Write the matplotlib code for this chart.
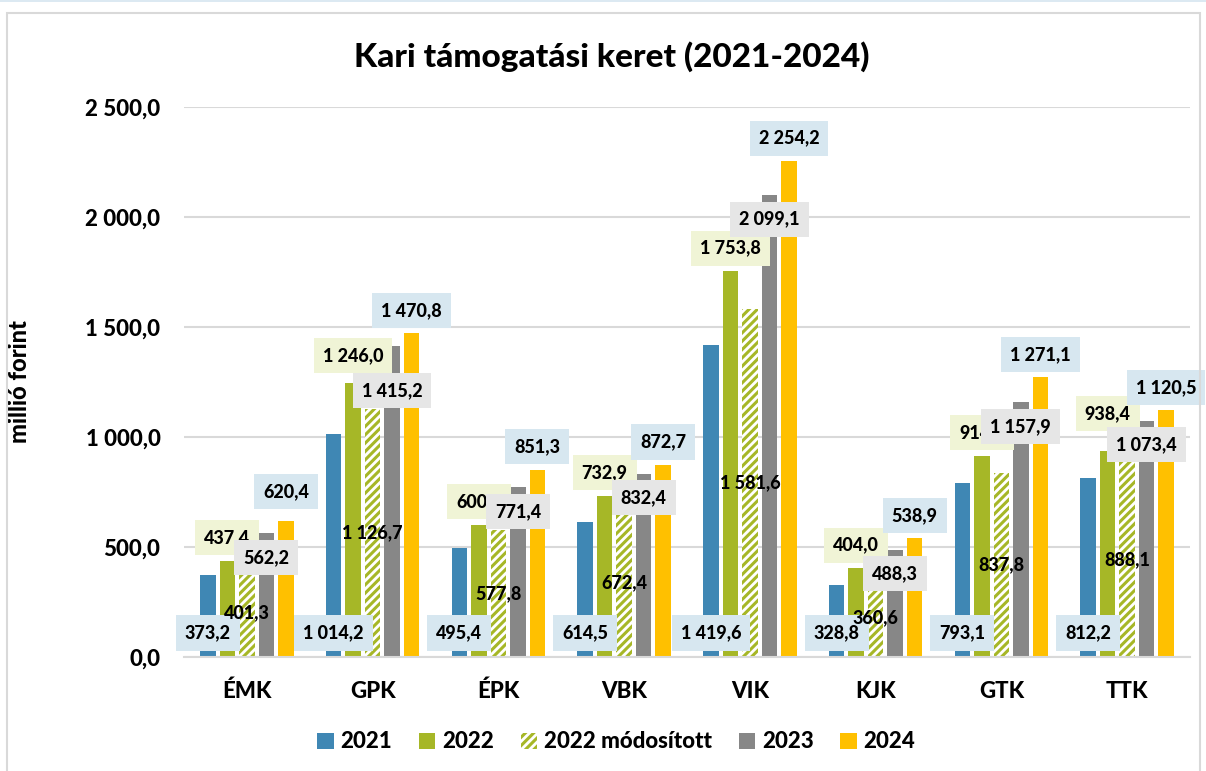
import numpy as np
import matplotlib.pyplot as plt
from matplotlib.patches import Patch, Rectangle

categories = ["ÉMK", "GPK", "ÉPK", "VBK", "VIK", "KJK", "GTK", "TTK"]
series_names = ["2021", "2022", "2022 módosított", "2023", "2024"]
v2021 = [373.2, 1014.2, 495.4, 614.5, 1419.6, 328.8, 793.1, 812.2]
v2022 = [437.4, 1246.0, 600.2, 732.9, 1753.8, 404.0, 914.3, 938.4]
v2022_mod = [401.3, 1126.7, 577.8, 672.4, 1581.6, 360.6, 837.8, 888.1]
v2023 = [562.2, 1415.2, 771.4, 832.4, 2099.1, 488.3, 1157.9, 1073.4]
v2024 = [620.4, 1470.8, 851.3, 872.7, 2254.2, 538.9, 1271.1, 1120.5]
yticks = [0, 500, 1000, 1500, 2000, 2500]

colors = ["#3F87B4", "#A6B727", "#A6B727", "#878787", "#FFC000"]
box_colors = ["#D7E7F0", "#F0F4D6", None, "#E6E6E6", "#D7E7F0"]

# label offsets in pixels (default per series, a few labels moved by hand)
default_offset = [24, 23, 0, -24, 23]
label_moves = {(1, 1): 27, (1, 7): 37, (3, 1): -45, (4, 0): 29}


def fmt(v):
    return f"{v:,.1f}".replace(",", " ").replace(".", ",")


W = "black"
plt.rcParams["font.family"] = ["Lato", "DejaVu Sans"]
plt.rcParams["font.weight"] = W
plt.rcParams["hatch.linewidth"] = 2.2

fig = plt.figure(figsize=(12.06, 7.71), dpi=100)
ax = fig.add_axes([184 / 1206, 1 - 657 / 771, (1190 - 184) / 1206, (657 - 107) / 771])

# chart frame
fig.patches.append(Rectangle((0, 1 - 2 / 771), 1, 2 / 771, transform=fig.transFigure,
                             facecolor="#DCE9F2", edgecolor="none"))
fig.patches.append(Rectangle((7 / 1206, -0.01), 1193 / 1206, 1 - 13 / 771 + 0.01,
                             transform=fig.transFigure, facecolor="none",
                             edgecolor="#D9D9D9", linewidth=1.5))

x = np.arange(len(categories))
step = 0.155
width = 0.124
all_series = [v2021, v2022, v2022_mod, v2023, v2024]

for i, vals in enumerate(all_series):
    pos = x + (i - 2) * step
    if i == 2:
        ax.bar(pos, vals, width, color="white", edgecolor=colors[i], hatch="////",
               linewidth=0, zorder=2)
    else:
        ax.bar(pos, vals, width, color=colors[i], zorder=2)

    for j, (px, v) in enumerate(zip(pos, vals)):
        kw = dict(ha="center", va="center", fontsize=13, fontweight=W,
                  textcoords="offset pixels", zorder=5 + i)
        if box_colors[i]:
            kw["bbox"] = dict(boxstyle="square,pad=0.5", facecolor=box_colors[i],
                              edgecolor="none")
        dy = label_moves.get((i, j), default_offset[i])
        if i == 0:
            anchor = 0
        elif i == 2:
            anchor = v / 2
        else:
            anchor = v
        ax.annotate(fmt(v), (px, anchor), xytext=(0, dy), **kw)

ax.set_ylim(0, 2500)
ax.set_xlim(-0.5, len(categories) - 0.5)
ax.set_yticks(yticks)
ax.set_yticklabels([fmt(t) for t in yticks])
ax.set_xticks(x)
ax.set_xticklabels(categories)
ax.tick_params(axis="both", length=0, labelsize=16)
ax.tick_params(axis="y", pad=17)
ax.tick_params(axis="x", pad=17)
ax.yaxis.grid(True, color="#D9D9D9", linewidth=1.5, zorder=0)
ax.set_axisbelow(True)
for s in ["top", "right", "left"]:
    ax.spines[s].set_visible(False)
ax.spines["bottom"].set_color("#D9D9D9")
ax.spines["bottom"].set_linewidth(1.5)

ax.set_ylabel("millió forint", fontsize=17, fontweight=W)
ax.yaxis.set_label_coords(-0.152, 0.5)
fig.text(0.507, 1 - 57 / 771, "Kari támogatási keret (2021-2024)", ha="center",
         va="center", fontsize=24, fontweight=W)

handles = []
for i, name in enumerate(series_names):
    if i == 2:
        handles.append(Patch(facecolor="white", edgecolor=colors[i], hatch="////",
                             linewidth=0, label=name))
    else:
        handles.append(Patch(facecolor=colors[i], label=name))
fig.legend(handles=handles, loc="center", bbox_to_anchor=(0.511, 1 - 742 / 771),
           ncol=5, frameon=False, fontsize=16, handlelength=0.75, handleheight=0.75,
           handletextpad=0.3, columnspacing=1.2)

fig.savefig("out.png", dpi=100)
